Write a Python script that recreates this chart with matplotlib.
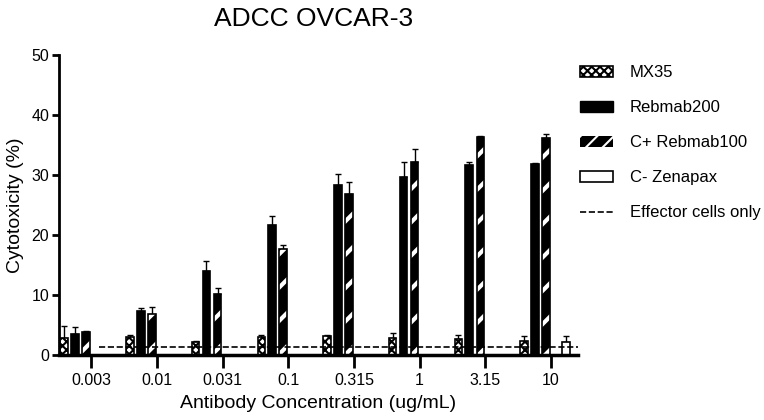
import matplotlib.pyplot as plt
from matplotlib.patches import Patch
from matplotlib.lines import Line2D
import numpy as np

plt.rcParams['font.family'] = ['Liberation Sans', 'DejaVu Sans']
plt.rcParams['hatch.linewidth'] = 1.5

concs = ['0.003', '0.01', '0.031', '0.1', '0.315', '1', '3.15', '10']

# mean cytotoxicity (%) and upper error (SEM)
mx35 = [2.9, 3.0, 2.1, 3.0, 3.2, 2.8, 2.7, 2.4]
mx35_err = [2.0, 0.4, 0.3, 0.3, 0.1, 0.8, 0.6, 0.7]
reb200 = [3.5, 7.4, 14.0, 21.7, 28.3, 29.7, 31.6, 31.9]
reb200_err = [1.2, 0.5, 1.6, 1.5, 1.8, 2.5, 0.6, 0.1]
cplus = [3.8, 6.8, 10.2, 17.6, 26.8, 32.1, 36.4, 36.1]
cplus_err = [0.2, 1.2, 1.0, 0.8, 2.0, 2.3, 0.1, 0.8]
cminus = [2.1]          # only measured at 10 ug/mL
cminus_err = [1.1]
effector = 1.3

x = np.arange(len(concs))
w = 0.115

fig = plt.figure(figsize=(7.64, 4.2), dpi=100)
ax = fig.add_axes([0.0772, 0.1548, 0.6793, 0.7143])

def errs(vals, e):
    return [np.zeros(len(vals)), e]

# MX35 - checkered
ax.bar(x - 0.41, mx35, w, color='white', edgecolor='black', hatch='xxxx', linewidth=1.2, zorder=2)
ax.errorbar(x - 0.41, mx35, yerr=errs(mx35, mx35_err), fmt='none', ecolor='black', capsize=2.5, elinewidth=1, zorder=1)
# Rebmab200 - solid black
ax.bar(x - 0.245, reb200, w, color='black', edgecolor='black', linewidth=1.2, zorder=2)
ax.errorbar(x - 0.245, reb200, yerr=errs(reb200, reb200_err), fmt='none', ecolor='black', capsize=2.5, elinewidth=1, zorder=1)
# C+ Rebmab100 - black with white stripes
with plt.rc_context({'hatch.linewidth': 3.0}):
    ax.bar(x - 0.076, cplus, w, color='black', edgecolor='white', hatch='/', linewidth=0, zorder=2)
with plt.rc_context({'hatch.linewidth': 2.5}):
    stripe_handle = Patch(facecolor='black', edgecolor='white', hatch='//', linewidth=0)
ax.bar(x - 0.076, cplus, w, fill=False, edgecolor='black', linewidth=1.2, zorder=3)
ax.errorbar(x - 0.076, cplus, yerr=errs(cplus, cplus_err), fmt='none', ecolor='black', capsize=2.5, elinewidth=1, zorder=1)
# C- Zenapax - open bar
xc = x[-1:] + 0.23
ax.bar(xc, cminus, w, color='white', edgecolor='black', linewidth=1.2, zorder=2)
ax.errorbar(xc, cminus, yerr=errs(cminus, cminus_err), fmt='none', ecolor='black', capsize=2.5, elinewidth=1, zorder=1)

# effector cells only
ax.plot([0.12, 7.41], [effector, effector], color='black', linestyle='--', linewidth=1.2, zorder=4)

ax.set_xlim(-0.49, 7.41)
ax.set_ylim(0, 50)
ax.set_yticks([0, 10, 20, 30, 40, 50])
ax.set_xticks(x)
ax.set_xticklabels(concs)
ax.spines['top'].set_visible(False)
ax.spines['right'].set_visible(False)
ax.spines['left'].set_linewidth(2)
ax.spines['bottom'].set_linewidth(2.5)
ax.tick_params(axis='x', length=9, width=2, labelsize=11.5, pad=4)
ax.tick_params(axis='y', length=5, width=2, labelsize=11.5, pad=2)
ax.set_xlabel('Antibody Concentration (ug/mL)', fontsize=14, labelpad=5)
ax.set_ylabel('Cytotoxicity (%)', fontsize=14, labelpad=5)

fig.text(0.41, 0.955, 'ADCC OVCAR-3', fontsize=19, ha='center', va='center')

handles = [
    Patch(facecolor='white', edgecolor='black', hatch='xxxx', linewidth=1.2),
    Patch(facecolor='black', edgecolor='black'),
    stripe_handle,
    Patch(facecolor='white', edgecolor='black', linewidth=1.2),
    Line2D([0], [0], color='black', linestyle='--', linewidth=1.2),
]
labels = ['MX35', 'Rebmab200', 'C+ Rebmab100', 'C- Zenapax', 'Effector cells only']
fig.legend(handles, labels, loc='upper left', bbox_to_anchor=(0.739, 0.88), frameon=False,
           fontsize=12, handlelength=2.0, handleheight=0.55, labelspacing=1.2, handletextpad=1.0)

plt.savefig('out.png', dpi=100)
plt.close()
